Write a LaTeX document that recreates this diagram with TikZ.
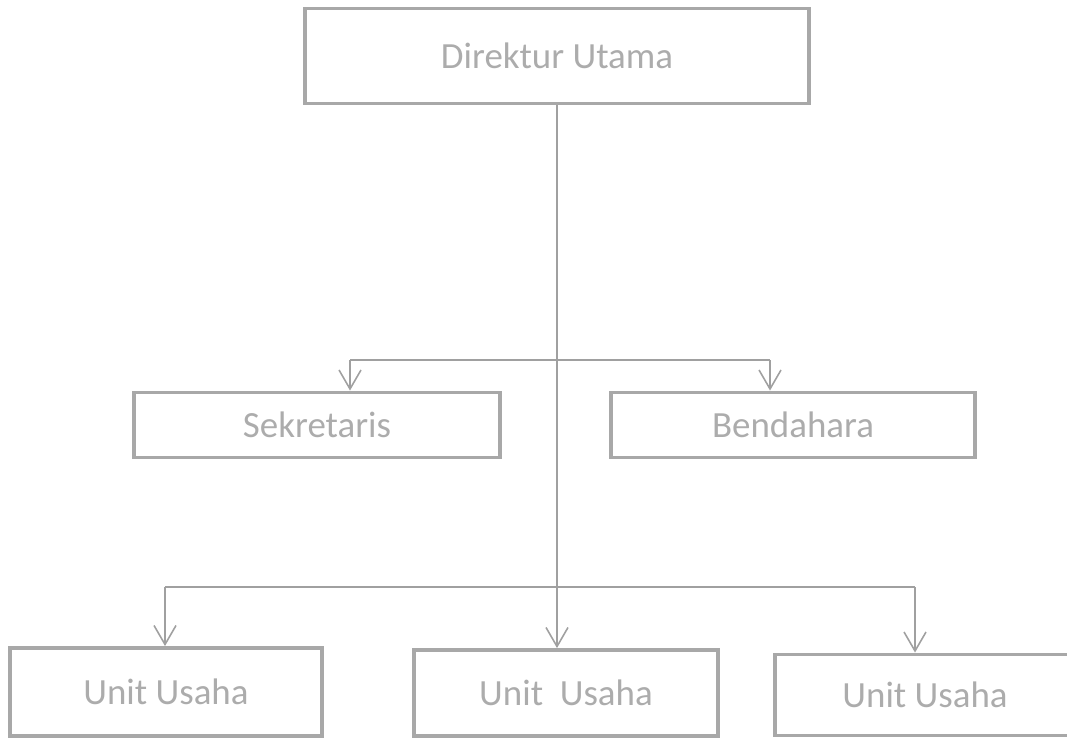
\documentclass[tikz,border=0pt]{standalone}
\usepackage{fontspec}
\setmainfont{Carlito}
\usetikzlibrary{arrows.meta,positioning}
\definecolor{frame}{RGB}{168,168,168}
\definecolor{label}{RGB}{172,172,172}
\definecolor{wire}{RGB}{160,160,160}
\tikzset{
  >={Straight Barb[length=1.9mm,width=2.2mm]},
  post/.style={draw=frame,line width=1.1pt,text=label,align=center,
    font=\fontsize{10.5}{12}\selectfont,inner sep=0pt},
  line/.style={draw=wire,line width=0.45pt},
  link/.style={line,->},
}
\begin{document}
\begin{tikzpicture}[x=0.01cm,y=-0.01cm]
  \useasboundingbox (0,0) rectangle (1067,738);
  % pimpinan
  \node[post,minimum width=50.4mm,minimum height=9.5mm] (dir) at (557,56) {Direktur Utama};
  \node[post,minimum width=36.5mm,minimum height=6.5mm] (sek) at (317,425) {Sekretaris};
  \node[post,minimum width=36.3mm,minimum height=6.5mm] (ben) at (793,425) {Bendahara};
  % unit usaha
  \node[post,minimum width=31.2mm,minimum height=8.8mm] (u1) at (166,692) {Unit Usaha};
  \node[post,minimum width=30.3mm,minimum height=8.6mm] (u2) at (566,693) {Unit~ Usaha};
  \node[post,minimum width=30mm,minimum height=8.1mm] (u3) at (925,695) {Unit Usaha};
  % garis
  \coordinate (ks) at (350,360);
  \coordinate (kb) at (770,360);
  \coordinate (k1) at (165,587);
  \coordinate (k3) at (915,587);
  \draw[link] (dir.south) -- (dir.south |- u2.north);
  \draw[line] (ks) -- (kb);
  \draw[link] (ks) -- (ks |- sek.north);
  \draw[link] (kb) -- (kb |- ben.north);
  \draw[line] (k1) -- (k3);
  \draw[link] (k1) -- (k1 |- u1.north);
  \draw[link] (k3) -- (k3 |- u3.north);
\end{tikzpicture}
\end{document}
